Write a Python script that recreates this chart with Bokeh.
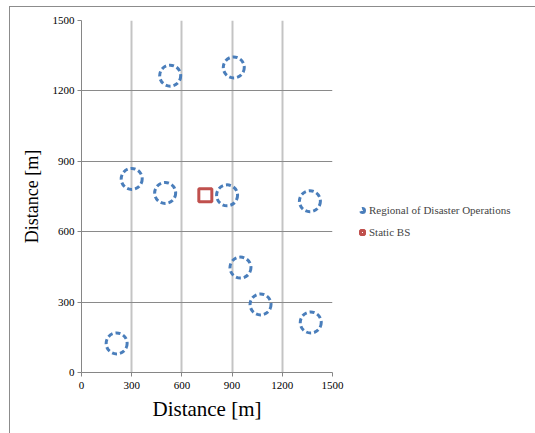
from bokeh.plotting import figure
from bokeh.models import Range1d, FixedTicker, Legend, LegendItem
from bokeh.embed import file_html
from bokeh.resources import INLINE

# Data
disaster_x = [530, 910, 300, 500, 870, 1365, 950, 1070, 1370, 210]
disaster_y = [1265, 1300, 825, 765, 755, 730, 447, 290, 213, 124]
bs_x = [740]
bs_y = [755]
ticks = [0, 300, 600, 900, 1200, 1500]
series_names = ["Regional of Disaster Operations", "Static BS"]

FONT = "Liberation Serif"

p = figure(frame_width=251, frame_height=352, output_backend="svg", toolbar_location=None,
           x_range=Range1d(0, 1500), y_range=Range1d(0, 1500),
           min_border_left=71, min_border_right=203, min_border_top=13, min_border_bottom=61)
p.styles = {"border-left": "1px solid #8c8c8c", "border-top": "1px solid #8c8c8c",
            "margin-left": "9px", "margin-top": "6px"}
p.outline_line_color = None

for ax in (p.xaxis[0], p.yaxis[0]):
    ax.ticker = FixedTicker(ticks=ticks)
    ax.axis_line_color = "#868686"
    ax.major_tick_line_color = "#868686"
    ax.major_tick_out = 4
    ax.major_tick_in = 0
    ax.minor_tick_line_color = None
    ax.major_label_text_font = FONT
    ax.major_label_text_font_size = "11px"
    ax.major_label_text_color = "#000000"
    ax.axis_label_text_font = FONT
    ax.axis_label_text_font_style = "normal"
    ax.axis_label_text_color = "#000000"

p.xaxis.axis_label = "Distance [m]"
p.xaxis.axis_label_text_font_size = "21px"
p.xaxis.major_label_standoff = 5
p.xaxis.axis_label_standoff = 5
p.yaxis.axis_label = "Distance [m]"
p.yaxis.axis_label_text_font_size = "18px"
p.yaxis.major_label_standoff = 3
p.yaxis.axis_label_standoff = 8

p.xgrid.ticker = FixedTicker(ticks=ticks)
p.ygrid.ticker = FixedTicker(ticks=ticks)
p.xgrid.grid_line_color = "#c4c4c4"
p.xgrid.grid_line_width = 2
p.ygrid.grid_line_color = "#8a8a8a"
p.ygrid.grid_line_width = 1

r1 = p.scatter(disaster_x, disaster_y, marker="circle", size=21, fill_color=None,
               line_color="#4A7EBB", line_width=3, line_dash="5 3")
r2 = p.scatter(bs_x, bs_y, marker="square", size=13, fill_color="white",
               line_color="#C0504D", line_width=3)

legend = Legend(items=[LegendItem(label=series_names[0], renderers=[r1]),
                       LegendItem(label=series_names[1], renderers=[r2])],
                location=(25, 134), orientation="vertical",
                background_fill_alpha=0, border_line_color=None,
                label_text_font=FONT, label_text_font_size="11px",
                glyph_width=10, glyph_height=10, label_standoff=2,
                spacing=10, padding=0, margin=0, label_height=12)
p.add_layout(legend, "right")

open("out.html", "w").write(file_html(p, INLINE))
